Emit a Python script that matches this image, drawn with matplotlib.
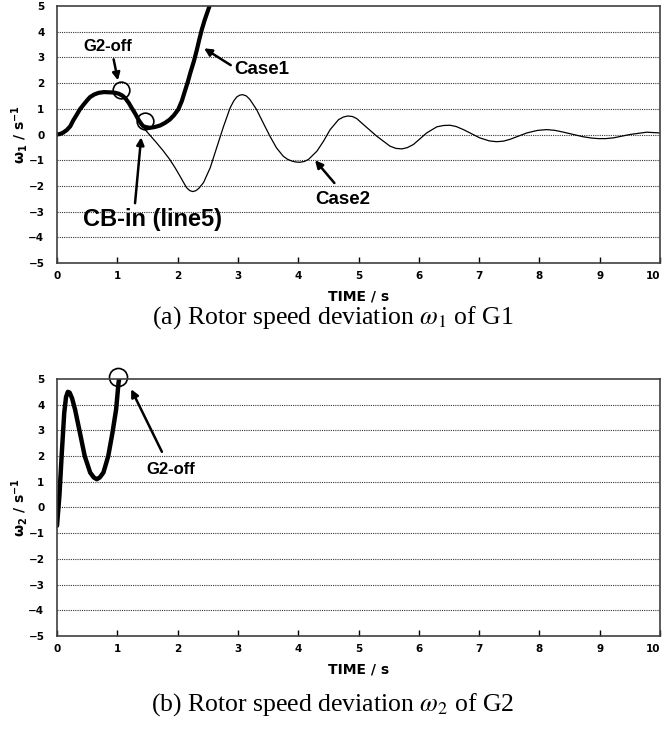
import matplotlib
matplotlib.use("Agg")
import matplotlib.pyplot as plt
import numpy as np

# ---- data ----
# shared start of both cases (rotor 1), up to CB-in
t_start = [0, 0.05, 0.1, 0.16, 0.22, 0.27, 0.33, 0.38, 0.44, 0.50, 0.55, 0.62, 0.69,
           0.78, 0.88, 0.95, 1.02, 1.08, 1.13, 1.19, 1.24, 1.30, 1.35, 1.39, 1.43]
w_start = [0, 0.02, 0.07, 0.17, 0.32, 0.55, 0.78, 0.98, 1.16, 1.33, 1.46, 1.56, 1.62,
           1.65, 1.64, 1.63, 1.59, 1.52, 1.42, 1.23, 1.03, 0.80, 0.58, 0.44, 0.32]

# Case1 after CB-in (thick, diverges)
t_case1 = [1.49, 1.54, 1.62, 1.71, 1.79, 1.87, 1.94, 2.01, 2.07, 2.12, 2.17, 2.21,
           2.27, 2.32, 2.36, 2.40, 2.45, 2.53]
w_case1 = [0.28, 0.26, 0.29, 0.35, 0.45, 0.58, 0.75, 0.97, 1.3, 1.68, 2.05, 2.39,
           2.85, 3.3, 3.7, 4.07, 4.46, 5.0]

# Case2 after CB-in (thin, damped)
t_case2 = [1.46, 1.55, 1.65, 1.76, 1.87, 1.96, 2.04, 2.10, 2.15, 2.20, 2.25, 2.30,
           2.35, 2.43, 2.54, 2.65, 2.76, 2.87, 2.93, 2.98, 3.03, 3.08, 3.14, 3.20,
           3.31, 3.42, 3.53, 3.64, 3.75, 3.82, 3.89, 3.96, 4.03, 4.10, 4.17, 4.31,
           4.42, 4.53, 4.67, 4.75, 4.82, 4.90, 4.97, 5.08, 5.30, 5.52, 5.62, 5.72,
           5.81, 5.91, 6.13, 6.30, 6.41, 6.52, 6.62, 6.74, 7.01, 7.17, 7.29, 7.40,
           7.51, 7.79, 7.97, 8.12, 8.26, 8.40, 8.73, 8.87, 8.98, 9.10, 9.23, 9.50,
           9.78, 10.0]
w_case2 = [0.19, -0.05, -0.32, -0.63, -0.97, -1.30, -1.62, -1.87, -2.07, -2.18, -2.22, -2.19,
           -2.10, -1.87, -1.3, -0.5, 0.3, 1.03, 1.30, 1.46, 1.53, 1.55, 1.50, 1.36,
           0.97, 0.45, -0.06, -0.52, -0.84, -0.96, -1.03, -1.07, -1.08, -1.05, -0.97, -0.65,
           -0.26, 0.19, 0.58, 0.68, 0.72, 0.70, 0.62, 0.39, -0.06, -0.45, -0.54, -0.56,
           -0.51, -0.39, 0.06, 0.30, 0.35, 0.36, 0.31, 0.19, -0.13, -0.25, -0.28, -0.26,
           -0.19, 0.06, 0.16, 0.19, 0.16, 0.09, -0.09, -0.14, -0.16, -0.16, -0.13, 0.0,
           0.09, 0.06]

# rotor 2
t_g2 = [0, 0.04, 0.08, 0.12, 0.15, 0.18, 0.21, 0.25, 0.30, 0.38, 0.46, 0.55, 0.61,
        0.66, 0.71, 0.77, 0.85, 0.92, 0.98, 1.02, 1.03]
w_g2 = [-0.71, 0.45, 2.13, 3.68, 4.30, 4.50, 4.47, 4.25, 3.81, 2.91, 2.0, 1.36, 1.17,
        1.10, 1.17, 1.36, 2.0, 2.91, 3.81, 4.84, 5.0]

# event markers
ev1_t = [1.06, 1.46]
ev1_w = [1.74, 0.52]
ev2_t = [1.02]
ev2_w = [5.06]

xticks = list(range(0, 11))
yticks = list(range(-5, 6))

plt.rcParams['mathtext.fontset'] = 'dejavusans'
tickfont = dict(family='DejaVu Sans', weight='bold', size=7.5)
annfont = dict(family='Liberation Sans', weight='bold')

fig = plt.figure(figsize=(6.65, 7.29), dpi=100)
ax1 = fig.add_axes([0.0857, 0.6392, 0.9068, 0.3526])
ax2 = fig.add_axes([0.0857, 0.1276, 0.9068, 0.3525])


def style(ax, ylab):
    ax.set_xlim(0, 10)
    ax.set_ylim(-5, 5)
    ax.set_xticks(xticks)
    ax.set_yticks(yticks)
    labs = ax.set_xticklabels([str(v) for v in xticks], fontdict=tickfont)
    labs[-1].set_horizontalalignment('right')
    ax.set_yticklabels([str(v).replace('-', '\u2212') for v in yticks], fontdict=tickfont)
    ax.tick_params(axis='x', direction='in', length=4, width=1, pad=6)
    ax.tick_params(axis='y', length=0, pad=9)
    for v in yticks[1:-1]:
        ax.axhline(v, color='#333333', lw=0.8, ls=(0, (1, 1)), zorder=0)
    for s in ax.spines.values():
        s.set_color('#404040')
        s.set_linewidth(1.2)
    ax.set_xlabel('TIME / s', fontsize=10, fontweight='bold', va='center')
    ax.xaxis.set_label_coords(0.5, -0.132)
    ax.set_ylabel(ylab, fontsize=10, fontweight='bold', va='center')
    ax.yaxis.set_label_coords(-0.063, 0.5)


style(ax1, r'$\mathbf{\omega_1}$ / s$^{\mathbf{-1}}$')
style(ax2, r'$\mathbf{\omega_2}$ / s$^{\mathbf{-1}}$')

# (a)
ax1.plot(t_start + t_case2, w_start + w_case2, color='black', lw=0.9)
ax1.plot(t_start + t_case1, w_start + w_case1, color='black', lw=3.0,
         solid_capstyle='round', solid_joinstyle='round')
ax1.plot(ev1_t, ev1_w, 'o', ms=12, mfc='none', mec='black', mew=1.2)

arrow = dict(arrowstyle='-|>', color='black', lw=1.8, mutation_scale=11)
ax1.annotate('', xy=(1.02, 2.0), xytext=(0.93, 3.03), arrowprops=arrow)
ax1.text(0.85, 3.41, 'G2-off', ha='center', va='center', size=12, **annfont)
ax1.annotate('', xy=(2.40, 3.41), xytext=(2.92, 2.64), arrowprops=arrow)
ax1.text(3.40, 2.52, 'Case1', ha='center', va='center', size=13.5, **annfont)
ax1.annotate('', xy=(1.40, 0.0), xytext=(1.29, -2.78), arrowprops=arrow)
ax1.text(1.58, -3.29, 'CB-in (line5)', ha='center', va='center', size=17, **annfont)
ax1.annotate('', xy=(4.25, -0.92), xytext=(4.63, -1.97), arrowprops=arrow)
ax1.text(4.74, -2.52, 'Case2', ha='center', va='center', size=13.5, **annfont)

# (b)
ax2.plot(t_g2, w_g2, color='black', lw=3.2, solid_capstyle='round',
         solid_joinstyle='round')
ax2.plot(ev2_t, ev2_w, 'o', ms=13, mfc='none', mec='black', mew=1.2, clip_on=False)
ax2.annotate('', xy=(1.21, 4.7), xytext=(1.76, 2.07), arrowprops=arrow)
ax2.text(1.89, 1.48, 'G2-off', ha='center', va='center', size=12, **annfont)

capfont = dict(family='Liberation Serif', size=18.5)
plt.rcParams['mathtext.fontset'] = 'stix'
fig.text(0.5, 0.5638, r'(a) Rotor speed deviation $\omega_1$ of G1', ha='center',
         va='center', **capfont)
fig.text(0.5, 0.033, r'(b) Rotor speed deviation $\omega_2$ of G2', ha='center',
         va='center', **capfont)

fig.savefig('out.png', dpi=100)
